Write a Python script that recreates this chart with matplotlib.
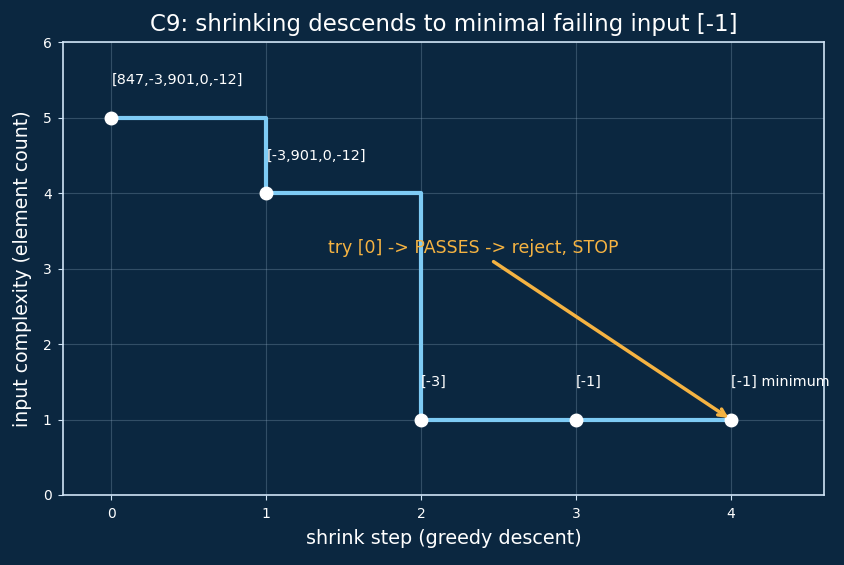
import matplotlib
matplotlib.use("Agg")
import matplotlib.pyplot as plt

# shrink trace
steps = [0, 1, 2, 3, 4]
complexity = [5, 4, 1, 1, 1]
labels = ["[847,-3,901,0,-12]", "[-3,901,0,-12]", "[-3]", "[-1]", "[-1] minimum"]

bg = "#0b2740"
fg = "#ffffff"
line_col = "#7ecbf5"
warn_col = "#f5b342"
spine_col = "#cfe3f5"

fig, ax = plt.subplots(figsize=(8.45, 5.65), dpi=100)
fig.patch.set_facecolor(bg)
ax.set_facecolor(bg)

ax.step(steps, complexity, where="post", color=line_col, linewidth=3, zorder=2)
ax.plot(steps, complexity, "o", color="white", markersize=9, zorder=3)

for x, y, lab in zip(steps, complexity, labels):
    ax.text(x, y + 0.5, lab, color=fg, fontsize=10.4, ha="left", va="center")

ax.annotate("try [0] -> PASSES -> reject, STOP", xy=(4, 1), xytext=(1.4, 3.27),
            color=warn_col, fontsize=12.5, ha="left", va="center",
            arrowprops=dict(arrowstyle="->", color=warn_col, lw=2.5))

ax.set_xlim(-0.31, 4.6)
ax.set_ylim(0, 6)
ax.set_xticks(steps)
ax.set_yticks(range(0, 7))
ax.grid(True, color="#8fa9c0", alpha=0.3, linewidth=0.8)
ax.set_axisbelow(True)

ax.set_title("C9: shrinking descends to minimal failing input [-1]", color=fg, fontsize=16.5, pad=8)
ax.set_xlabel("shrink step (greedy descent)", color=fg, fontsize=13.8, labelpad=6)
ax.set_ylabel("input complexity (element count)", color=fg, fontsize=13.6, labelpad=8)
ax.tick_params(colors=spine_col, labelcolor=fg, labelsize=10, pad=5)
for sp in ax.spines.values():
    sp.set_color(spine_col)
    sp.set_linewidth(1.2)

fig.subplots_adjust(left=0.075, right=0.975, top=0.925, bottom=0.124)
fig.savefig("out.png", dpi=100, facecolor=bg)
